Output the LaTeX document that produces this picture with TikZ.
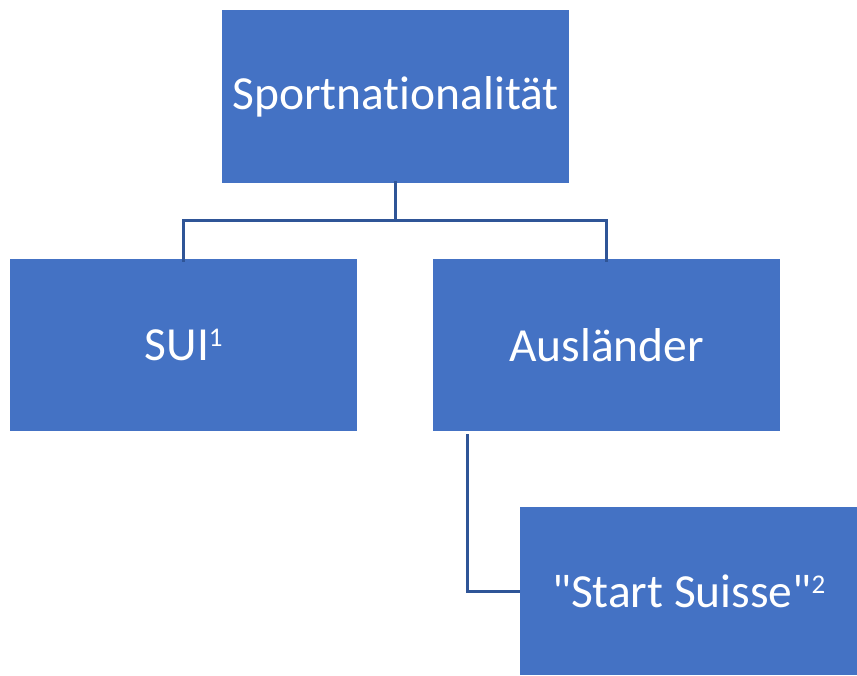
\documentclass[tikz,border=0pt]{standalone}
\usepackage{fontspec}
\setmainfont{Carlito}[Ligatures={TeXOff,NoCommon}]
\usetikzlibrary{calc}
\definecolor{boxblue}{HTML}{4472C4}
\definecolor{lineblue}{HTML}{2F5597}
\newcommand\mysup[1]{\raisebox{13.5pt}{\fontsize{27}{27}\selectfont #1}}
\begin{document}
\begin{tikzpicture}[x=1pt,y=-1pt,
  orgbox/.style={fill=boxblue, draw=none, text=white, inner sep=0pt, anchor=north west,
    font=\fontsize{47.5}{56}\selectfont},
  link/.style={draw=lineblue, line width=3pt}]
\useasboundingbox (0,0) rectangle (857,675);
\node[orgbox, minimum width=347pt, minimum height=173pt] (top) at (222,10) {Sportnationalität};
\node[orgbox, minimum width=347pt, minimum height=172pt] (sui) at (10,259) {SUI\mysup{1}};
\node[orgbox, minimum width=347pt, minimum height=172pt] (aus) at (433,259) {Ausländer};
\node[orgbox, minimum width=337pt, minimum height=168pt] (start) at (520,507) {"Start Suisse"\mysup{2}};
\coordinate (bend) at ($(top.south)+(0,37)$);
\draw[link] ([yshift=2pt]top.south) -- (bend) -| ([yshift=-3pt]sui.north);
\draw[link] (bend) -| ([yshift=-3pt]aus.north);
\coordinate (ausL) at ($(aus.south west)+(34,3)$);
\draw[link] (ausL) |- (start.west);
\end{tikzpicture}
\end{document}
